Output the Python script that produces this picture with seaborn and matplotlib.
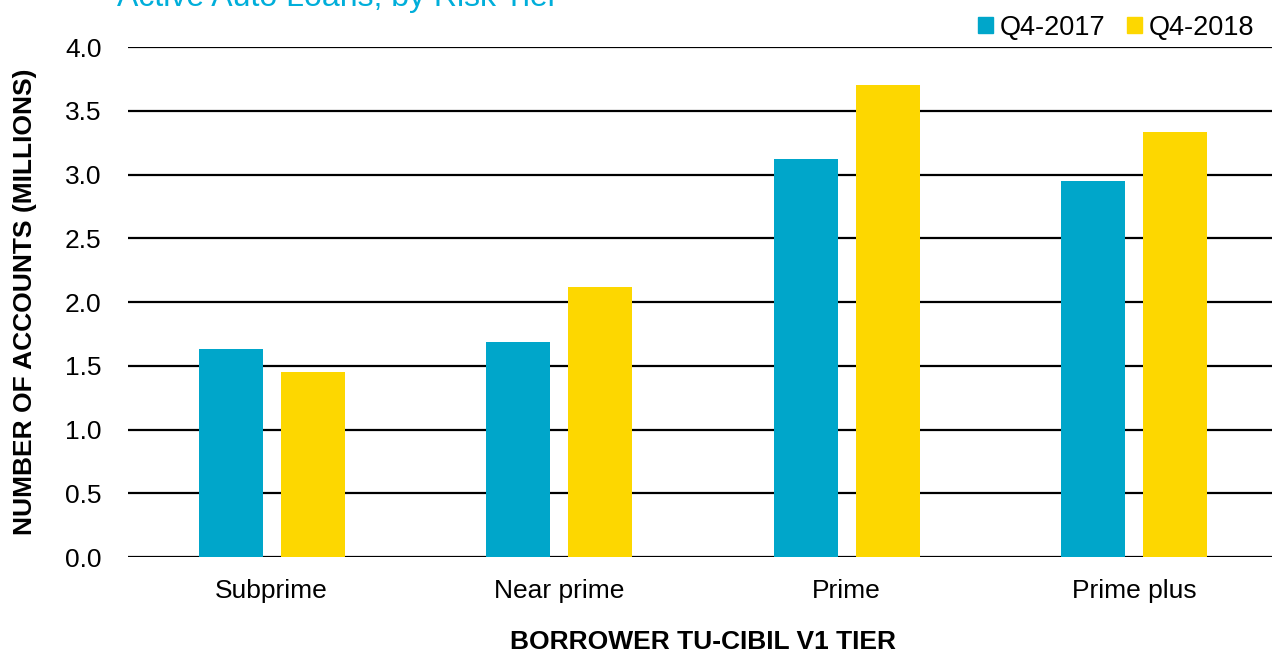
import pandas as pd
import numpy as np
import matplotlib
matplotlib.use("Agg")
import matplotlib.pyplot as plt
from matplotlib.patches import Patch
import seaborn as sns

# values (millions of accounts)
tiers = ["Subprime", "Near prime", "Prime", "Prime plus"]
q4_2017 = [1.63, 1.69, 3.12, 2.95]
q4_2018 = [1.45, 2.12, 3.70, 3.33]
periods = ["Q4-2017", "Q4-2018"]
yticks = [0.0, 0.5, 1.0, 1.5, 2.0, 2.5, 3.0, 3.5, 4.0]

cyan = "#00A6CA"
yellow = "#FDD700"

df = pd.DataFrame({
    "tier": tiers * 2,
    "period": [periods[0]] * 4 + [periods[1]] * 4,
    "value": q4_2017 + q4_2018,
})

sns.set_style("white")
plt.rcParams["font.family"] = ["Liberation Sans", "DejaVu Sans"]
plt.rcParams["text.color"] = "black"
plt.rcParams["axes.labelcolor"] = "black"

fig = plt.figure(figsize=(12.72, 6.53), dpi=100)
ax = fig.add_axes([0.1006, 0.147, 0.904, 0.781])

sns.barplot(data=df, x="tier", y="value", hue="period", order=tiers,
            hue_order=periods, palette=[cyan, yellow], saturation=1,
            width=0.57, gap=0.22, errorbar=None, ax=ax, legend=False,
            linewidth=0, zorder=3)

ax.set_ylim(0, 4)
ax.set_xlim(-0.5, 3.5)
ax.set_yticks(yticks)
ax.set_yticklabels([f"{t:.1f}" for t in yticks])
ax.yaxis.grid(True, color="black", linewidth=1.6)
ax.set_axisbelow(True)
for s in ax.spines.values():
    s.set_visible(False)
ax.tick_params(axis="both", length=0, labelsize=19, colors="black")
ax.tick_params(axis="y", pad=19)
ax.tick_params(axis="x", pad=16)

ax.set_xlabel("BORROWER TU-CIBIL V1 TIER", fontsize=19, fontweight="bold",
              labelpad=19, color="black")
ax.set_ylabel("NUMBER OF ACCOUNTS (MILLIONS)", fontsize=19,
              fontweight="bold", labelpad=20, color="black")

fig.text(117 / 1272, 1 - 6 / 653, "Active Auto Loans, by Risk Tier",
         color="#00AEDA", fontsize=23, ha="left", va="baseline")

handles = [Patch(color=cyan), Patch(color=yellow)]
fig.legend(handles, periods, loc="upper right", bbox_to_anchor=(1.005, 1.015),
           ncol=2, frameon=False, fontsize=19.5, handlelength=0.55,
           handleheight=0.55, handletextpad=0.25, columnspacing=0.8)

fig.savefig("out.png", dpi=100)
